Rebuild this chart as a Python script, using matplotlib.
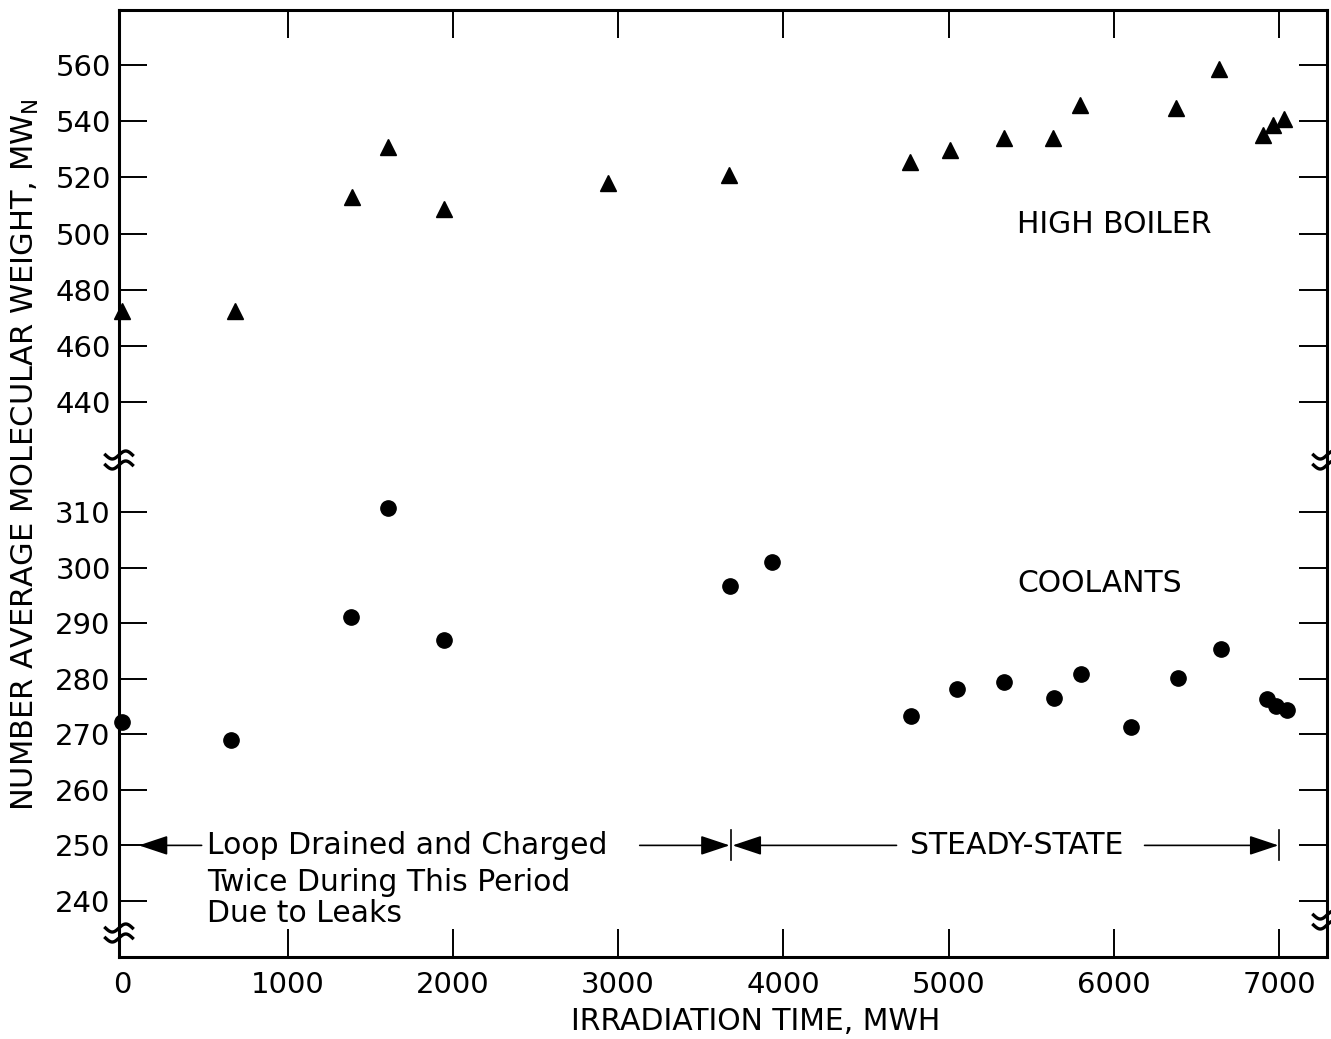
import numpy as np
import matplotlib
matplotlib.use("Agg")
import matplotlib.pyplot as plt
from matplotlib.lines import Line2D

# high boiler (triangles)
hb_x = [0, 680, 1390, 1609, 1949, 2939, 3673, 4766, 5009, 5337, 5634, 5798, 6375, 6636, 6903, 6964, 7031]
hb_y = [472.5, 472.5, 513, 530.8, 508.8, 518, 520.9, 525.5, 529.8, 534, 534, 545.8, 544.7, 558.6, 535.1, 538.6, 540.8]

# coolants (circles)
co_x = [0, 656, 1384, 1609, 1949, 3679, 3934, 4772, 5052, 5337, 5640, 5804, 6102, 6387, 6648, 6928, 6982, 7049]
co_y = [272.2, 269, 291.1, 310.7, 287, 296.7, 301, 273.3, 278.1, 279.4, 276.5, 280.8, 271.3, 280.1, 285.3, 276.3, 275.1, 274.4]

x_ticks = [0, 1000, 2000, 3000, 4000, 5000, 6000, 7000]
upper_ticks = [440, 460, 480, 500, 520, 540, 560]
lower_ticks = [240, 250, 260, 270, 280, 290, 300, 310]

W, H = 1331, 1039
fig = plt.figure(figsize=(W / 100, H / 100), dpi=100)

L, R, T, B, BRK = 119, 1327, 10, 957, 460
def fx(px):
    return px / W
def fy(py):
    return 1 - py / H

ax_hi = fig.add_axes([fx(L), fy(BRK), fx(R) - fx(L), fy(T) - fy(BRK)])
ax_lo = fig.add_axes([fx(L), fy(B), fx(R) - fx(L), fy(BRK) - fy(B)])

lw_sp = 2.2
for ax in (ax_hi, ax_lo):
    ax.set_xlim(-20, 7290)
    for s in ax.spines.values():
        s.set_linewidth(lw_sp)
    ax.tick_params(direction="in", length=20, width=1.4, labelsize=21, pad=6)

ax_hi.spines["bottom"].set_visible(False)
ax_lo.spines["top"].set_visible(False)

ax_hi.set_ylim(419.4, 579.6)
ax_hi.set_yticks(upper_ticks)
ax_hi.set_xticks(x_ticks[1:])
ax_hi.tick_params(axis="x", top=True, bottom=False, labelbottom=False)
ax_hi.tick_params(axis="y", left=True, right=True)

ax_lo.set_ylim(229.9, 319.4)
ax_lo.set_yticks(lower_ticks)
ax_lo.set_xticks(x_ticks)
ax_lo.tick_params(axis="x", top=False, bottom=True, pad=10)
ax_lo.tick_params(axis="y", left=True, right=True)
ax_lo.xaxis.get_major_ticks()[0].tick1line.set_visible(False)

ax_hi.plot(hb_x, hb_y, "^", color="black", markersize=11, clip_on=False)
ax_lo.plot(co_x, co_y, "o", color="black", markersize=11, clip_on=False)

fs = 21.5
ax_hi.text(6000, 503.4, "HIGH BOILER", fontsize=fs, ha="center", va="center")
ax_lo.text(5913, 297.2, "COOLANTS", fontsize=fs, ha="center", va="center")

# period annotations
aprops = dict(arrowstyle="-|>,head_length=0.9,head_width=0.3", mutation_scale=20,
              color="black", lw=1.2, shrinkA=0, shrinkB=0)
ax_lo.annotate("", xy=(100, 250), xytext=(480, 250), arrowprops=aprops)
ax_lo.annotate("", xy=(3675, 250), xytext=(3131, 250), arrowprops=aprops)
ax_lo.annotate("", xy=(3693, 250), xytext=(4685, 250), arrowprops=aprops)
ax_lo.annotate("", xy=(6996, 250), xytext=(6186, 250), arrowprops=aprops)
ax_lo.plot([3681, 3681], [247.3, 252.7], color="black", lw=1.2)
ax_lo.plot([7002, 7002], [247.3, 252.7], color="black", lw=1.2)
ax_lo.text(511, 250, "Loop Drained and Charged", fontsize=fs, ha="left", va="center")
ax_lo.text(511, 243.4, "Twice During This Period", fontsize=fs, ha="left", va="center")
ax_lo.text(511, 237.8, "Due to Leaks", fontsize=fs, ha="left", va="center")
ax_lo.text(5413, 250, "STEADY-STATE", fontsize=fs, ha="center", va="center")

fig.text(fx(756), fy(1022), "IRRADIATION TIME, MWH", fontsize=fs, ha="center", va="center")
fig.text(fx(25), fy(455), r"NUMBER AVERAGE MOLECULAR WEIGHT, MW$_\mathregular{N}$",
         fontsize=22, ha="center", va="center", rotation=90)

# axis break marks
def squiggle(cx, cy, x0, x1):
    t = np.linspace(x0, x1, 60)
    for dy in (-5, 5):
        ys = cy + dy - 4 * np.sin(2 * np.pi * t / 27)
        fig.add_artist(Line2D(fx(cx + t), fy(ys), color="black", lw=2.4,
                              transform=fig.transFigure))

squiggle(L, BRK, -13.5, 13.5)
squiggle(L, 933, -13.5, 13.5)
squiggle(R, BRK, -13.5, 4)
squiggle(R, 920, -13.5, 4)

fig.savefig("out.png", dpi=100)
